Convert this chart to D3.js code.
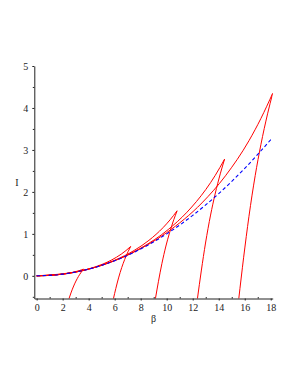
<!DOCTYPE html>
<html><head><meta charset="utf-8">
<script src="https://cdn.jsdelivr.net/npm/d3@7"></script>
<style>body{margin:0;background:#fff}svg{display:block}</style>
</head><body>
<svg id="c" width="298" height="385"></svg>
<script>
// ---- data ----
const xTicks = [0,2,4,6,8,10,12,14,16,18];
const xMinor = [1,3,5,7,9,11,13,15,17];
const yTicks = [0,1,2,3,4,5];
const yMinor = [-0.5,0.5,1.5,2.5,3.5,4.5];

// blue dashed curve
const blueBeta = [0,2,4,6,8,10,12,14,16,18.1];
const blueI    = [0,0.04,0.16,0.36,0.64,1.0,1.44,1.96,2.56,3.28];

// red curves: upper branch (from origin to cusp)
const up1Beta = [0,0.72,1.44,1.98,2.52,2.88,3.24,3.42,3.6];
const up1I    = [0,0.0052,0.0209,0.040,0.0671,0.0909,0.1212,0.1394,0.16];
const up2Beta = [0,1.446,2.892,3.977,5.061,5.784,6.507,6.869,7.23];
const up2I    = [0,0.0209,0.0844,0.163,0.277,0.381,0.5176,0.602,0.70];
const up3Beta = [0,2.16,4.32,5.94,7.56,8.64,9.72,10.26,10.8];
const up3I    = [0,0.0467,0.1882,0.3635,0.6167,0.8471,1.1488,1.3348,1.55];
const up4Beta = [0,2.89,5.78,7.95,10.12,11.56,13.01,13.73,14.45];
const up4I    = [0,0.0836,0.337,0.651,1.104,1.517,2.059,2.392,2.78];
const up5Beta = [0,3.63,7.26,9.98,12.71,14.52,16.34,17.24,18.15];
const up5I    = [0,0.132,0.531,1.026,1.738,2.384,3.228,3.748,4.35];

// red curves: lower branch (from bottom to cusp)
const lo1Beta = [2.48,2.639,2.815,3.023,3.21,3.431,3.6];
const lo1I    = [-0.55,-0.408,-0.266,-0.124,-0.0175,0.089,0.16];
const lo2Beta = [5.9,6.089,6.298,6.545,6.767,7.029,7.23];
const lo2I    = [-0.55,-0.30,-0.05,0.20,0.3875,0.575,0.70];
const lo3Beta = [9.13,9.368,9.63,9.94,10.218,10.547,10.8];
const lo3I    = [-0.55,-0.13,0.29,0.71,1.025,1.34,1.55];
const lo4Beta = [12.36,12.658,12.985,13.373,13.722,14.134,14.45];
const lo4I    = [-0.55,0.116,0.782,1.448,1.948,2.447,2.78];
const lo5Beta = [15.54,15.912,16.321,16.805,17.241,17.755,18.15];
const lo5I    = [-0.55,0.43,1.41,2.39,3.125,3.86,4.35];

const xLabel = "β";
const yLabel = "I";

// ---- drawing ----
const svg = d3.select("#c");
const x = d3.scaleLinear().domain([-0.18, 18.15]).range([34.3, 272.7]);
const y = d3.scaleLinear().domain([-0.54, 5]).range([298.5, 66]);
const font = "Liberation Serif, Times New Roman, serif";
const axCol = "#222";

svg.append("defs").append("clipPath").attr("id","clip")
  .append("rect").attr("x",x.range()[0]).attr("y",y.range()[1])
  .attr("width",x.range()[1]-x.range()[0]).attr("height",y.range()[0]-y.range()[1]);

const zip = (a,b) => a.map((v,i)=>[v,b[i]]);
const line = d3.line().x(d=>x(d[0])).y(d=>y(d[1])).curve(d3.curveMonotoneX);

const g = svg.append("g").attr("clip-path","url(#clip)");
const reds = [
  [up1Beta,up1I],[up2Beta,up2I],[up3Beta,up3I],[up4Beta,up4I],[up5Beta,up5I],
  [lo1Beta,lo1I],[lo2Beta,lo2I],[lo3Beta,lo3I],[lo4Beta,lo4I],[lo5Beta,lo5I]
];
reds.forEach(([b,i])=>{
  g.append("path").attr("d", line(zip(b,i)))
   .attr("fill","none").attr("stroke","#ff0000").attr("stroke-width",1);
});
g.append("path").attr("d", line(zip(blueBeta,blueI)))
  .attr("fill","none").attr("stroke","#0000ff").attr("stroke-width",1.1)
  .attr("stroke-dasharray","3.5,2.5");

// axes
function styleAxis(sel){
  sel.selectAll("path.domain").attr("stroke",axCol).attr("stroke-width",1);
  sel.selectAll(".tick line").attr("stroke",axCol);
  sel.selectAll(".tick text").attr("fill",axCol).style("font-family",font).style("font-size","10px");
}
const yb = y.range()[0];
const xl = x.range()[0];

const xa = svg.append("g").attr("transform",`translate(0,${yb})`)
  .call(d3.axisBottom(x).tickValues(xTicks).tickSize(2).tickSizeOuter(0).tickPadding(3).tickFormat(d3.format("d")));
styleAxis(xa);
const xm = svg.append("g").attr("transform",`translate(0,${yb})`)
  .call(d3.axisTop(x).tickValues(xMinor).tickSize(1.5).tickSizeOuter(0).tickFormat(""));
xm.select("path.domain").remove();
xm.selectAll(".tick line").attr("stroke",axCol);

const ya = svg.append("g").attr("transform",`translate(${xl},0)`)
  .call(d3.axisLeft(y).tickValues(yTicks).tickSize(2).tickSizeOuter(0).tickPadding(4).tickFormat(d3.format("d")));
styleAxis(ya);
const ym = svg.append("g").attr("transform",`translate(${xl},0)`)
  .call(d3.axisLeft(y).tickValues(yMinor).tickSize(1.5).tickSizeOuter(0).tickFormat(""));
ym.select("path.domain").remove();
ym.selectAll(".tick line").attr("stroke",axCol);

svg.append("text").attr("x",(x.range()[0]+x.range()[1])/2).attr("y",322)
  .attr("text-anchor","middle").attr("fill",axCol)
  .style("font-family",font).style("font-size","10px").text(xLabel);
svg.append("text").attr("x",17).attr("y",(y.range()[0]+y.range()[1])/2+3.5)
  .attr("text-anchor","middle").attr("fill",axCol)
  .style("font-family",font).style("font-size","10px").text(yLabel);
</script>
</body></html>
